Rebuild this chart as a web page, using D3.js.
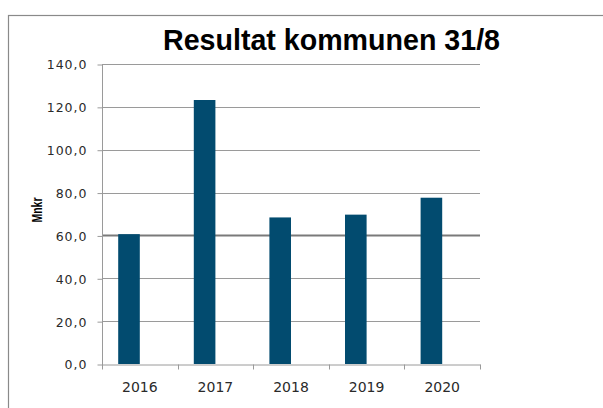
<!DOCTYPE html>
<html><head><meta charset="utf-8">
<script src="https://cdn.jsdelivr.net/npm/d3@7"></script>
<style>body{margin:0;background:#fff}svg{display:block}</style>
</head><body><svg id="c" width="603" height="408"></svg>
<script>
const title = "Resultat kommunen 31/8";
const yAxisTitle = "Mnkr";
const categories = ["2016","2017","2018","2019","2020"];
const values = [60.6, 123.2, 68.4, 69.7, 77.6];
// chart had a second (empty) series slot in each cluster
const seriesSlots = ["Resultat", "(tom)"];
const yTicks = [0,20,40,60,80,100,120,140];

const svg = d3.select("#c");
// outer frame
svg.append("rect").attr("x",8.5).attr("y",15.5).attr("width",640).attr("height",440)
  .attr("fill","#fff").attr("stroke","#8a8a8a").attr("stroke-width",1.2);

const x = d3.scaleBand().domain(categories).range([102,480]).paddingInner(0).paddingOuter(0);
const xs = d3.scaleBand().domain(seriesSlots).range([0, x.bandwidth()]).paddingInner(0).paddingOuter(0.75);
const y = d3.scaleLinear().domain([0,140]).range([364,64]);

// gridlines
svg.append("g").selectAll("line").data(yTicks.filter(d=>d>0)).join("line")
  .attr("x1",102).attr("x2",480)
  .attr("y1",d=>Math.round(y(d))+0.5).attr("y2",d=>Math.round(y(d))+0.5)
  .attr("stroke",d=>d===60?"#7a7a7a":"#9a9a9a").attr("stroke-width",d=>d===60?1.8:1);

// y axis
const ya = d3.axisLeft(y).tickValues(yTicks).tickSize(5).tickPadding(10)
  .tickFormat(d=>d3.format(".1f")(d).replace(".",","));
const gy = svg.append("g").attr("transform","translate(102.5,0.5)").call(ya);
gy.select(".domain").attr("stroke","#9a9a9a").attr("d","M0,"+(y(140)-0.5)+"V"+(y(0)+0.5));
gy.selectAll(".tick line").attr("stroke","#9a9a9a");
gy.selectAll(".tick text").attr("fill","#2a2a2a").style("font-family","DejaVu Sans")
  .style("font-size","12.5px").style("letter-spacing","1px").attr("dy","0.35em");

// bars
svg.append("g").selectAll("rect").data(categories).join("rect")
  .attr("x",(d)=>x(d)+xs(seriesSlots[0]))
  .attr("width",xs.bandwidth())
  .attr("y",(d,i)=>y(values[i]))
  .attr("height",(d,i)=>y(0)-y(values[i]))
  .attr("fill","#024b6f");

// x axis
const xa = d3.axisBottom(x).tickSize(0).tickPadding(18);
const gx = svg.append("g").attr("transform","translate(0,"+(y(0)+0.5)+")").call(xa);
gx.select(".domain").attr("stroke","#9a9a9a");
gx.selectAll(".tick text").attr("fill","#2a2a2a").style("font-family","DejaVu Sans").style("font-size","14px");
// category boundary ticks
gx.append("g").selectAll("line").data(categories.concat(["end"])).join("line")
  .attr("x1",(d,i)=>Math.round(x.range()[0]+i*x.step())+0.5)
  .attr("x2",(d,i)=>Math.round(x.range()[0]+i*x.step())+0.5)
  .attr("y1",0).attr("y2",5).attr("stroke","#9a9a9a");

// title
svg.append("text").attr("x",331.5).attr("y",50).attr("text-anchor","middle")
  .style("font-family","Liberation Sans").style("font-weight","bold").style("font-size","29px")
  .attr("textLength",337).attr("lengthAdjust","spacingAndGlyphs").attr("fill","#000").text(title);

// y axis title
svg.append("text").attr("transform","translate(42,210) rotate(-90)").attr("text-anchor","middle")
  .style("font-family","Liberation Sans").style("font-weight","bold").style("font-size","14.5px")
  .attr("textLength",25).attr("lengthAdjust","spacingAndGlyphs").attr("fill","#000").text(yAxisTitle);
</script></body></html>
